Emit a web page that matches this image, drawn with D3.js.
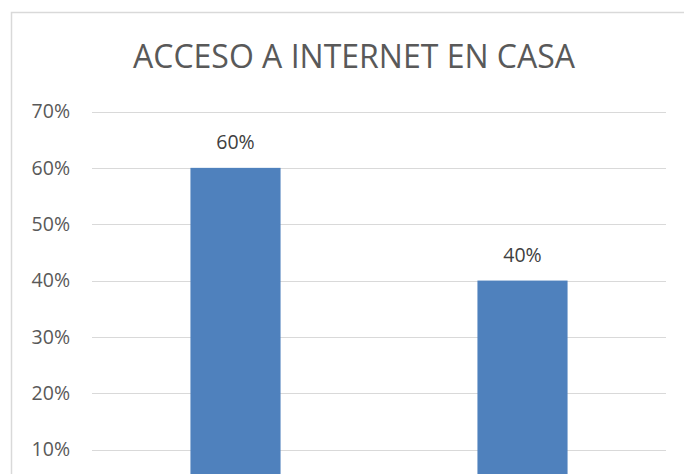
<!DOCTYPE html>
<html>
<head>
<meta charset="utf-8">
<script src="https://cdn.jsdelivr.net/npm/d3@7"></script>
<style>
  body { margin: 0; background: #fff; }
  svg { display: block; font-family: "Open Sans", sans-serif; }
  .grid line { stroke: #d9d9d9; stroke-width: 1; }
</style>
</head>
<body>
<svg id="chart" width="684" height="474"></svg>
<script>
const categories = ["Sí", "No"];
const values = [0.60, 0.40];
const ticks = [0.1, 0.2, 0.3, 0.4, 0.5, 0.6, 0.7];
const title = "ACCESO A INTERNET EN CASA";

const svg = d3.select("#chart");

// chart area border (right and bottom edges fall outside the picture)
svg.append("rect")
  .attr("x", 11.5)
  .attr("y", 12.5)
  .attr("width", 700)
  .attr("height", 500)
  .attr("fill", "white")
  .attr("stroke", "#d9d9d9")
  .attr("stroke-width", 1.5);

const plot = { left: 92, right: 666 };

const x = d3.scaleBand()
  .domain(categories)
  .range([plot.left, plot.right])
  .paddingInner(0.686)
  .paddingOuter(0.343);

const y = d3.scaleLinear()
  .domain([0, 0.7])
  .range([506, 111.5]);

const fmt = d3.format(".0%");

// gridlines
svg.append("g")
  .attr("class", "grid")
  .selectAll("line")
  .data(ticks)
  .join("line")
  .attr("x1", plot.left)
  .attr("x2", plot.right)
  .attr("y1", d => Math.round(y(d)) + 0.5)
  .attr("y2", d => Math.round(y(d)) + 0.5);

// y axis labels
const yAxis = d3.axisLeft(y).tickValues(ticks).tickFormat(fmt).tickSize(0).tickPadding(0);
svg.append("g")
  .attr("transform", "translate(70,0)")
  .call(yAxis)
  .call(g => g.select(".domain").remove())
  .selectAll("text")
  .attr("font-family", "Open Sans, sans-serif")
  .attr("font-size", 19.5)
  .attr("fill", "#595959");

// bars
svg.append("g")
  .selectAll("rect")
  .data(values)
  .join("rect")
  .attr("x", (d, i) => x(categories[i]))
  .attr("width", x.bandwidth())
  .attr("y", d => y(d))
  .attr("height", d => y(0) - y(d))
  .attr("fill", "#4f81bd");

// data labels
svg.append("g")
  .selectAll("text")
  .data(values)
  .join("text")
  .attr("x", (d, i) => x(categories[i]) + x.bandwidth() / 2)
  .attr("y", d => y(d) - 19)
  .attr("text-anchor", "middle")
  .attr("font-size", 19.5)
  .attr("fill", "#404040")
  .text(d => fmt(d));

// title
svg.append("text")
  .attr("x", 354)
  .attr("y", 68)
  .attr("text-anchor", "middle")
  .attr("font-size", 32)
  .attr("fill", "#595959")
  .text(title);
</script>
</body>
</html>
